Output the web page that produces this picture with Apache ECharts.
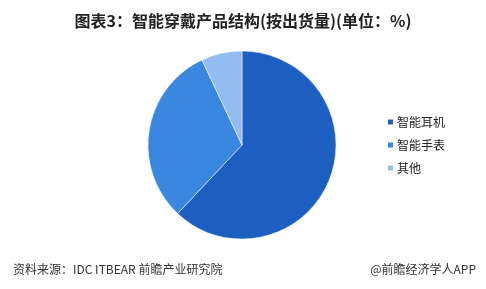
<!DOCTYPE html>
<html><head><meta charset="utf-8">
<script src="https://cdn.jsdelivr.net/npm/echarts@6/dist/echarts.min.js"></script>
<style>html,body{margin:0;padding:0;background:#fff}#c{width:486px;height:289px}</style>
</head><body><div id="c"></div>
<script>
const categories = ['智能耳机', '智能手表', '其他'];
const values = [62, 31, 7];
const colors = ['#1c5fc1', '#3a87e2', '#93bdf0'];

const chart = echarts.init(document.getElementById('c'), null, {renderer: 'canvas'});
chart.setOption({
  animation: false,
  backgroundColor: '#fff',
  title: [{
    text: '图表3：智能穿戴产品结构(按出货量)(单位：%)',
    left: 'center', top: 8,
    textStyle: {fontFamily: 'Noto Sans CJK SC', fontSize: 16, fontWeight: 'bold', color: '#222'}
  }, {
    text: '资料来源：IDC ITBEAR 前瞻产业研究院',
    left: 8, top: 258,
    textStyle: {fontFamily: 'Noto Sans CJK SC', fontSize: 12, fontWeight: 'normal', color: '#333'}
  }, {
    text: '@前瞻经济学人APP',
    right: 5, top: 258,
    textStyle: {fontFamily: 'Noto Sans CJK SC', fontSize: 12, fontWeight: 'normal', color: '#333'}
  }],
  legend: {
    orient: 'vertical', left: 381, top: 111,
    itemWidth: 7, itemHeight: 7, itemGap: 11, icon: 'rect',
    textStyle: {fontFamily: 'Noto Sans CJK SC', fontSize: 12, color: '#222', padding: [0,0,0,-2]},
    data: categories
  },
  series: [{
    type: 'pie',
    center: [242, 145], radius: [0, 94],
    startAngle: 90, clockwise: true,
    label: {show: false}, labelLine: {show: false},
    itemStyle: {borderColor: '#fff', borderWidth: 0.5},
    data: categories.map((n, i) => ({name: n, value: values[i], itemStyle: {color: colors[i]}}))
  }]
});
</script></body></html>
